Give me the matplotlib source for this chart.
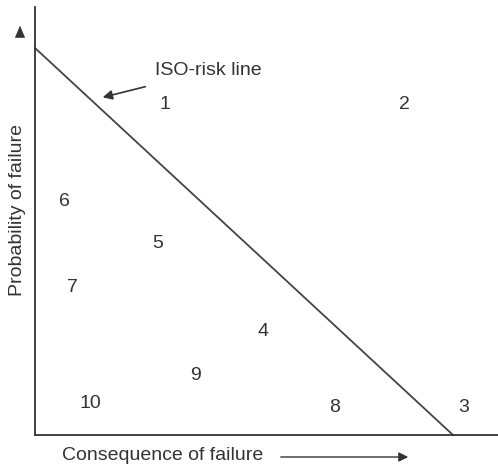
import matplotlib
matplotlib.use("Agg")
import matplotlib.pyplot as plt

plt.rcParams['font.family'] = ['Liberation Sans', 'DejaVu Sans']

W, H = 498, 466
labels = ["1", "2", "3", "4", "5", "6", "7", "8", "9", "10"]
xs = [130, 369, 429, 228, 123, 29, 37, 300, 160, 55]
ys = [331, 331, 27, 103, 192, 234, 148, 27, 59, 31]
iso_x = [0, 418]
iso_y = [387, 0]
FS = 14

fig = plt.figure(figsize=(W / 100, H / 100), dpi=100)
ax = fig.add_axes([35 / W, (H - 435) / H, 463 / W, 428 / H])
ax.set_xlim(0, 463)
ax.set_ylim(0, 428)
ax.set_xticks([])
ax.set_yticks([])
for s in ['top', 'right']:
    ax.spines[s].set_visible(False)
for s in ['left', 'bottom']:
    ax.spines[s].set_linewidth(1.3)
    ax.spines[s].set_color('#333333')

ax.plot(iso_x, iso_y, color='#444444', lw=1.3, clip_on=False)
for l, x, y in zip(labels, xs, ys):
    ax.text(x, y, l, ha='center', va='center', fontsize=FS, color='#333333')

ax.annotate("", xy=(65, 337), xytext=(113, 349),
            arrowprops=dict(arrowstyle='-|>', color='#333333', lw=1.2, mutation_scale=14))
ax.text(120, 365, "ISO-risk line", ha='left', va='center', fontsize=FS, color='#333333')

# y-axis label and arrow
fig.text(17 / W, 1 - 210 / H, "Probability of failure", rotation=90, ha='center', va='center',
         fontsize=FS, color='#333333')
ax.annotate("", xy=(20 / W, 1 - 23 / H), xytext=(20 / W, 1 - 33 / H), xycoords='figure fraction',
            textcoords='figure fraction',
            arrowprops=dict(arrowstyle='-|>,head_length=0.7,head_width=0.3', color='#333333',
                            lw=0.5, mutation_scale=11))

# x-axis label and arrow
fig.text(62 / W, 1 - 455 / H, "Consequence of failure", ha='left', va='center',
         fontsize=FS, color='#333333')
ax.annotate("", xy=(411 / W, 1 - 457 / H), xytext=(278 / W, 1 - 457 / H), xycoords='figure fraction',
            textcoords='figure fraction',
            arrowprops=dict(arrowstyle='-|>', color='#333333', lw=1.0, mutation_scale=14))

fig.savefig("out.png", dpi=100)
